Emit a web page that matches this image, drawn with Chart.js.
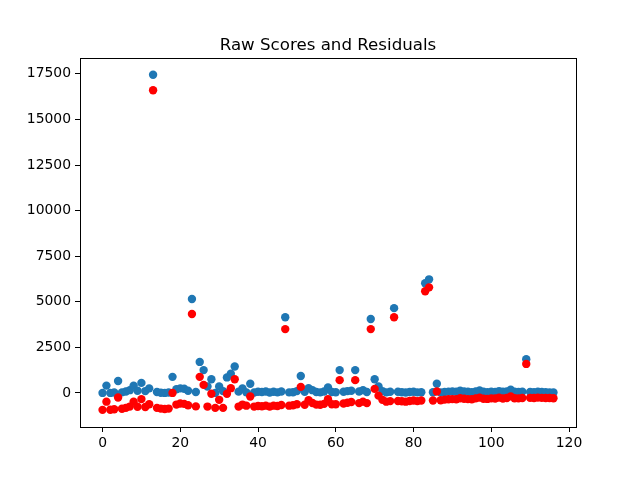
<!DOCTYPE html>
<html>
<head>
<meta charset="utf-8">
<script src="https://cdn.jsdelivr.net/npm/chart.js@4/dist/chart.umd.min.js"></script>
<style>
html,body{margin:0;padding:0;background:#fff;}
#wrap{width:640px;height:480px;}
</style>
</head>
<body>
<div id="wrap"><canvas id="c" width="640" height="480"></canvas></div>
<script>
const titleText = "Raw Scores and Residuals";
const xTicks = [0, 20, 40, 60, 80, 100, 120];
const yTicks = [0, 2500, 5000, 7500, 10000, 12500, 15000, 17500];

const rawScores = [
  0, 400, 0, 20, 650, 30, 80, 150, 400, 120,
  550, 100, 250, 17450, 50, 10, 0, 20, 880, 200,
  250, 230, 120, 5150, 50, 1700, 1250, 350, 750, 0,
  350, 100, 850, 1050, 1450, 70, 250, 30, 500, 20,
  60, 50, 80, 20, 60, 30, 80, 4150, 30, 40,
  100, 930, 60, 260, 150, 50, 30, 80, 300, 50,
  40, 1250, 60, 100, 120, 1250, 80, 150, 50, 4050,
  750, 350, 100, 30, 60, 4650, 60, 40, 20, 50,
  60, 30, 40, 6020, 6230, 40, 500, 30, 50, 70,
  80, 60, 120, 80, 60, 40, 80, 130, 60, 40,
  70, 50, 100, 60, 80, 180, 60, 50, 70, 1850,
  50, 40, 60, 50, 40, 30, 20
];

const residuals = [
  -930, -480, -920, -900, -250, -870, -820, -750, -480, -760,
  -340, -770, -620, 16600, -820, -860, -880, -860, 0, -640,
  -580, -600, -680, 4330, -740, 880, 440, -750, -50, -820,
  -380, -820, -50, 260, 750, -750, -640, -700, -200, -750,
  -720, -730, -700, -750, -700, -720, -660, 3500, -700, -680,
  -620, 330, -650, -400, -550, -640, -650, -600, -350, -620,
  -620, 700, -580, -540, -500, 700, -560, -480, -560, 3500,
  220, -150, -380, -480, -450, 4150, -440, -460, -480, -440,
  -420, -450, -420, 5580, 5790, -420, 80, -400, -370, -350,
  -340, -350, -290, -320, -340, -350, -300, -260, -320, -330,
  -300, -310, -260, -310, -280, -190, -290, -300, -280, 1590,
  -270, -280, -260, -270, -280, -280, -290
];

const toPoints = arr => arr.map((v, i) => ({x: i, y: v}));
const fontFam = "'DejaVu Sans', sans-serif";

const boxPlugin = {
  id: 'box',
  afterDraw(chart) {
    const a = chart.chartArea;
    const ctx = chart.ctx;
    ctx.save();
    ctx.strokeStyle = '#000';
    ctx.lineWidth = 1;
    ctx.strokeRect(Math.round(a.left) + 0.5, Math.round(a.top) + 0.5,
                   Math.round(a.right - a.left), Math.round(a.bottom - a.top));
    ctx.fillStyle = '#000';
    ctx.font = "16.67px " + fontFam;
    ctx.textAlign = 'center';
    ctx.textBaseline = 'alphabetic';
    ctx.fillText(titleText, (a.left + a.right) / 2, a.top - 8);
    ctx.restore();
  }
};

new Chart(document.getElementById('c'), {
  type: 'scatter',
  data: {
    datasets: [
      {
        label: 'Raw Scores',
        data: toPoints(rawScores),
        backgroundColor: '#1f77b4',
        borderColor: '#1f77b4',
        borderWidth: 0,
        pointRadius: 4.2,
        order: 2
      },
      {
        label: 'Residuals',
        data: toPoints(residuals),
        backgroundColor: '#ff0000',
        borderColor: '#ff0000',
        borderWidth: 0,
        pointRadius: 4.2,
        order: 1
      }
    ]
  },
  options: {
    responsive: false,
    animation: false,
    devicePixelRatio: 1,
    layout: { padding: { left: 0, right: 64, top: 58, bottom: 0 } },
    plugins: {
      legend: { display: false },
      tooltip: { enabled: false },
      title: { display: false }
    },
    scales: {
      x: {
        type: 'linear',
        min: -5.8,
        max: 121.8,
        afterBuildTicks: s => { s.ticks = xTicks.map(v => ({value: v})); },
        afterFit: s => { s.height = 53; },
        grid: { display: true, drawOnChartArea: false, drawTicks: true, tickLength: 5, color: '#000', lineWidth: 1 },
        border: { display: false },
        ticks: { color: '#000', font: { family: fontFam, size: 13.9 }, padding: 3, maxRotation: 0, callback: v => String(v) }
      },
      y: {
        type: 'linear',
        min: -1870,
        max: 18370,
        afterBuildTicks: s => { s.ticks = yTicks.map(v => ({value: v})); },
        afterFit: s => { s.width = 80; },
        grid: { display: true, drawOnChartArea: false, drawTicks: true, tickLength: 5, color: '#000', lineWidth: 1 },
        border: { display: false },
        ticks: { color: '#000', font: { family: fontFam, size: 13.9 }, padding: 4, callback: v => String(v) }
      }
    }
  },
  plugins: [boxPlugin]
});
</script>
</body>
</html>
